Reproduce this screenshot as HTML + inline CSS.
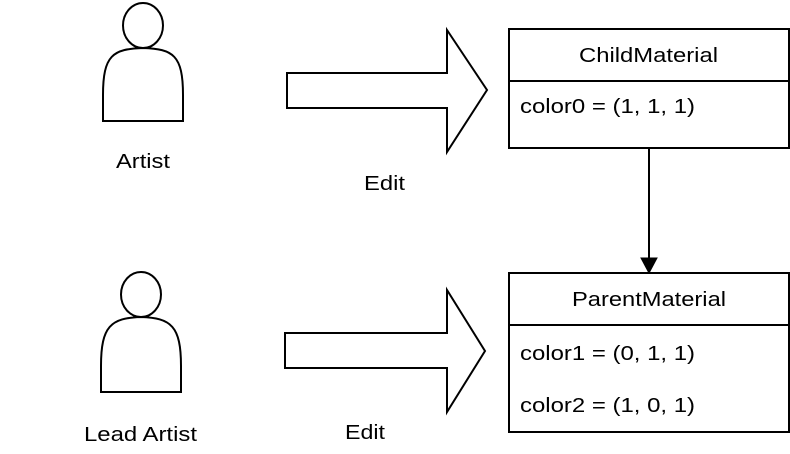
<!DOCTYPE html>
<html><head><style>body{margin:0;background:#fff}svg{display:block}text{font-family:"Liberation Sans",Arial,sans-serif;font-size:20px;fill:#000}</style></head>
<body>
<svg width="790" height="454" viewBox="0 0 790 454" xmlns="http://www.w3.org/2000/svg">
<g fill="#fff" stroke="#000" stroke-width="2">
<ellipse cx="143" cy="25.5" rx="20" ry="22.5"/>
<path d="M103,121 L103,95 C103,55 113,49 143,48 C173,49 183,55 183,95 L183,121 Z"/>
<ellipse cx="141" cy="294.5" rx="20" ry="22.5"/>
<path d="M101,392 L101,366 C101,326 111,318 141,317 C171,318 181,326 181,366 L181,392 Z"/>
<path d="M287,73 L447,73 L447,30 L487,90 L447,152 L447,108 L287,108 Z"/>
<path d="M285,333 L447,333 L447,290 L485,351 L447,412 L447,368 L285,368 Z"/>
<rect x="509" y="29" width="280" height="119"/>
<line x1="509" y1="81" x2="789" y2="81"/>
<rect x="509" y="273" width="280" height="159"/>
<line x1="509" y1="325" x2="789" y2="325"/>
<line x1="649" y1="148" x2="649" y2="260"/>
</g>
<path d="M641,258 L649,273 L657,258 Z" fill="#000" stroke="#000" stroke-width="1"/>
<text x="116" y="168" textLength="54" lengthAdjust="spacingAndGlyphs">Artist</text>
<text x="364" y="190" textLength="41" lengthAdjust="spacingAndGlyphs">Edit</text>
<text x="84" y="441" textLength="113" lengthAdjust="spacingAndGlyphs">Lead Artist</text>
<text x="345" y="439" textLength="40" lengthAdjust="spacingAndGlyphs">Edit</text>
<text x="579" y="62" textLength="139" lengthAdjust="spacingAndGlyphs">ChildMaterial</text>
<text x="520" y="113" textLength="175" lengthAdjust="spacingAndGlyphs">color0 = (1, 1, 1)</text>
<text x="572" y="306" textLength="154" lengthAdjust="spacingAndGlyphs">ParentMaterial</text>
<text x="520" y="360" textLength="175" lengthAdjust="spacingAndGlyphs">color1 = (0, 1, 1)</text>
<text x="520" y="412" textLength="175" lengthAdjust="spacingAndGlyphs">color2 = (1, 0, 1)</text>
</svg>
</body></html>
